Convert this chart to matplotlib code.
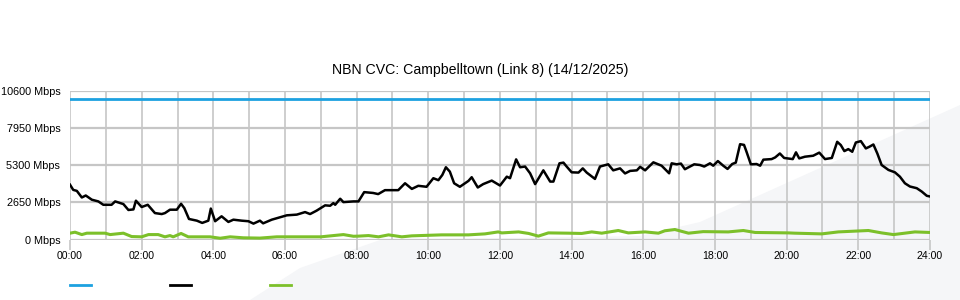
import matplotlib
matplotlib.use("Agg")
import matplotlib.pyplot as plt
from matplotlib.lines import Line2D
from matplotlib.patches import Polygon

plt.rcParams['font.family'] = ['Liberation Sans', 'DejaVu Sans']

title = "NBN CVC: Campbelltown (Link 8) (14/12/2025)"
capacity = 10000  # Mbps, flat blue line

# black series (hour of day, Mbps)
used_hours = [0.00, 0.09, 0.19, 0.33, 0.44, 0.61, 0.79, 0.93, 1.16, 1.26, 1.49, 1.63, 1.77, 1.84,
              2.00, 2.17, 2.37, 2.56, 2.65, 2.79, 2.98, 3.10, 3.19, 3.32, 3.54, 3.69, 3.86, 3.93,
              4.05, 4.23, 4.42, 4.56, 4.79, 4.98, 5.12, 5.30, 5.39, 5.63, 5.86, 6.05, 6.33, 6.56,
              6.70, 6.88, 7.12, 7.26, 7.35, 7.40, 7.54, 7.63, 7.91, 8.05, 8.21, 8.46, 8.60, 8.79,
              9.16, 9.35, 9.54, 9.72, 9.95, 10.14, 10.28, 10.39, 10.49, 10.60, 10.72, 10.88, 11.12,
              11.21, 11.38, 11.53, 11.77, 12.00, 12.19, 12.28, 12.45, 12.56, 12.70, 12.84, 12.98,
              13.21, 13.40, 13.49, 13.66, 13.77, 13.86, 14.00, 14.19, 14.31, 14.42, 14.65, 14.79,
              15.02, 15.16, 15.35, 15.49, 15.63, 15.82, 15.91, 16.05, 16.28, 16.51, 16.72, 16.79,
              16.93, 17.05, 17.16, 17.42, 17.58, 17.70, 17.86, 17.95, 18.08, 18.23, 18.35, 18.48,
              18.58, 18.70, 18.81, 18.88, 19.00, 19.16, 19.26, 19.35, 19.58, 19.68, 19.81, 19.93,
              20.17, 20.26, 20.35, 20.51, 20.74, 20.91, 21.07, 21.26, 21.41, 21.51, 21.61, 21.72,
              21.83, 21.93, 22.07, 22.21, 22.31, 22.42, 22.53, 22.65, 22.84, 23.02, 23.16, 23.30,
              23.44, 23.63, 23.77, 23.91, 24.00]
used_mbps = [3900, 3530, 3460, 2990, 3130, 2830, 2710, 2470, 2470, 2710, 2520, 2100, 2140, 2760,
             2310, 2470, 1880, 1810, 1880, 2120, 2120, 2540, 2230, 1460, 1340, 1180, 1340, 2200,
             1300, 1650, 1250, 1410, 1340, 1300, 1130, 1340, 1150, 1410, 1580, 1720, 1770, 1950,
             1810, 2050, 2430, 2400, 2590, 2470, 2900, 2660, 2710, 2710, 3370, 3310, 3230, 3510,
             3510, 4000, 3600, 3820, 3750, 4360, 4220, 4590, 5140, 4830, 4000, 3750, 4170,
             4430, 3700, 3940, 4190, 3840, 4470, 4360, 5700, 5140, 5190, 4710, 3940,
             4920, 4120, 4120, 5420, 5470, 5190, 4780, 4760, 5060, 4760, 4310, 5190,
             5350, 4920, 5060, 4700, 4880, 4920, 5170, 4920, 5490, 5250, 4710, 5420,
             5350, 5400, 5000, 5350, 5300, 5190, 5420, 5250, 5580, 5250, 5020, 5370,
             5470, 6780, 6730, 6240, 5350, 5370, 5250, 5680, 5720, 5840, 6120, 5800,
             5720, 6200, 5770, 5890, 5960, 6180, 5720, 5800, 6950, 6720, 6290, 6430,
             6240, 6900, 7000, 6480, 6600, 6760, 6120, 5300, 4950, 4780, 4470, 4000,
             3770, 3650, 3410, 3110, 3060]

# green series (hour of day, Mbps)
up_hours = [0.00, 0.14, 0.33, 0.47, 0.98, 1.12, 1.49, 1.72, 2.00, 2.19, 2.46, 2.65, 2.79, 2.88,
            3.10, 3.30, 3.91, 4.19, 4.47, 4.84, 5.30, 5.77, 6.50, 7.00, 7.63, 7.91, 8.05, 8.33,
            8.61, 8.89, 9.26, 9.54, 10.37, 11.12, 11.58, 11.95, 12.05, 12.52, 12.80, 13.07,
            13.35, 13.91, 14.28, 14.56, 14.84, 15.30, 15.58, 16.05, 16.42, 16.60, 16.88, 17.26,
            17.67, 18.37, 18.79, 19.12, 20.05, 20.23, 20.98, 21.44, 22.28, 22.65, 22.98, 23.58,
            24.00]
up_mbps = [450, 520, 350, 450, 450, 350, 450, 210, 190, 350, 350, 190, 280, 190,
           430, 190, 190, 90, 190, 120, 100, 190, 190, 190, 350, 230, 240, 280,
           190, 330, 190, 260, 330, 330, 400, 540, 470, 540, 430, 240,
           470, 450, 430, 540, 450, 640, 470, 540, 450, 620, 710, 450,
           560, 540, 640, 500, 470, 450, 400, 540, 640, 470, 350, 540,
           500]

y_ticks = [0, 2650, 5300, 7950, 10600]
x_ticks = list(range(0, 25, 2))

blue = "#1da1e0"
green = "#7cc02a"
grid_c = "#c6c6c6"

fig = plt.figure(figsize=(9.6, 3.0), dpi=100)

# faint decorative swoosh behind the chart (figure pixel coords / 960x300)
swoosh = [(250, 300), (300, 268), (380, 240), (640, 236), (700, 222), (960, 105), (960, 300)]
fig.patches.append(Polygon([(x / 960, 1 - y / 300) for x, y in swoosh], closed=True,
                           transform=fig.transFigure, facecolor="#f5f6f8", edgecolor="none", zorder=-10))

ax = fig.add_axes([70 / 960, 1 - 239.5 / 300, 860 / 960, 149 / 300])
ax.set_zorder(1)
ax.patch.set_visible(False)
for s in ax.spines.values():
    s.set_visible(False)

# hourly vertical grid, horizontal grid at the tick levels
for h in range(0, 25):
    ax.axvline(h, color=grid_c, lw=1.2, zorder=1)
for v in y_ticks:
    ax.axhline(v, color=grid_c, lw=1.6, zorder=1)

ax.plot([0, 24], [capacity, capacity], color=blue, lw=2, zorder=3)
ax.plot(up_hours, up_mbps, color=green, lw=2.2, zorder=3)
ax.plot(used_hours, used_mbps, color="black", lw=1.8, zorder=4)

ax.set_xlim(0, 24)
ax.set_ylim(0, 10600)
ax.set_xticks(x_ticks)
ax.set_xticklabels(["%02d:00" % h for h in x_ticks])
ax.set_yticks(y_ticks)
ax.set_yticklabels(["%d Mbps" % v for v in y_ticks])
ax.tick_params(axis="x", length=7.5, color=grid_c, width=1.2, labelsize=7.6, pad=1)
ax.tick_params(axis="y", length=0, labelsize=7.8, pad=7)

fig.text(0.5, 1 - 70 / 300, title, ha="center", va="center", fontsize=10.2)

# legend swatches, no labels
for x0, c in [(70, blue), (170, "black"), (270, green)]:
    fig.add_artist(Line2D([x0 / 960, (x0 + 21) / 960], [1 - 285 / 300] * 2,
                          transform=fig.transFigure, color=c, lw=2))

fig.savefig("out.png", dpi=100)
